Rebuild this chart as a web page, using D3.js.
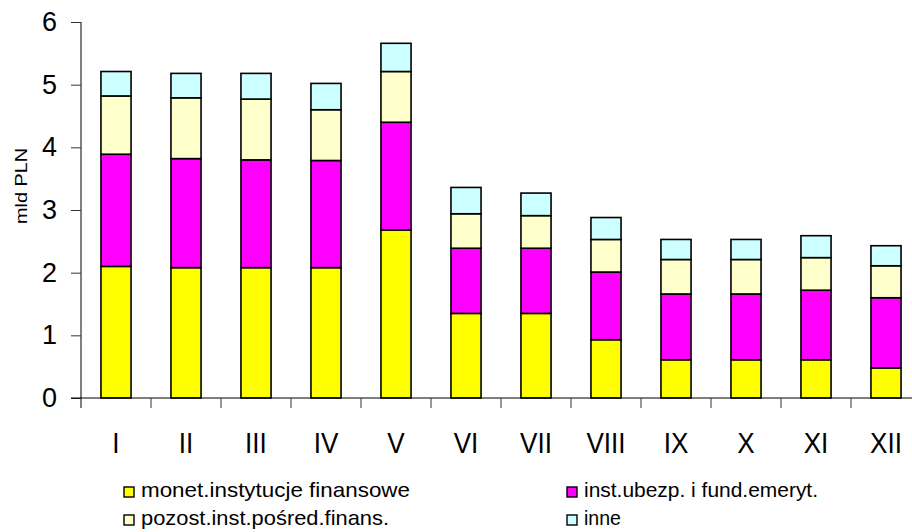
<!DOCTYPE html>
<html>
<head>
<meta charset="utf-8">
<script src="https://cdn.jsdelivr.net/npm/d3@7"></script>
<style>
  html, body { margin: 0; padding: 0; background: #fff; }
  svg { display: block; font-family: "Liberation Sans", Arial, sans-serif; }
</style>
</head>
<body>
<svg id="chart" width="912" height="532"></svg>
<script>
// Months (Roman numerals) and the four stacked components, in bn PLN
const months = ["I", "II", "III", "IV", "V", "VI", "VII", "VIII", "IX", "X", "XI", "XII"];
const monetInstytucje = [2.10, 2.08, 2.08, 2.08, 2.68, 1.35, 1.35, 0.93, 0.61, 0.61, 0.61, 0.48];
const instUbezp       = [1.79, 1.74, 1.72, 1.71, 1.72, 1.04, 1.04, 1.08, 1.05, 1.05, 1.11, 1.12];
const pozostInst      = [0.93, 0.97, 0.97, 0.81, 0.81, 0.55, 0.52, 0.52, 0.55, 0.55, 0.52, 0.51];
const inne            = [0.39, 0.39, 0.41, 0.42, 0.45, 0.42, 0.36, 0.35, 0.32, 0.32, 0.35, 0.32];
const seriesNames = ["monet.instytucje finansowe", "inst.ubezp. i fund.emeryt.", "pozost.inst.pośred.finans.", "inne"];
const seriesColors = ["#ffff00", "#ff00ff", "#ffffcc", "#ccffff"];
const yTicks = [0, 1, 2, 3, 4, 5, 6];

const svg = d3.select("#chart");
const plotLeft = 81, plotRight = 921, plotTop = 22, plotBottom = 398;

const x = d3.scaleBand().domain(months).range([plotLeft, plotRight])
  .paddingInner(0.57).paddingOuter(0.285);
const y = d3.scaleLinear().domain([0, 6]).range([plotBottom, plotTop]);

const keys = ["a", "b", "c", "d"];
const rows = months.map((m, i) => ({
  month: m, a: monetInstytucje[i], b: instUbezp[i], c: pozostInst[i], d: inne[i]
}));
const stacked = d3.stack().keys(keys)(rows);

// Stacked bars
svg.append("g").selectAll("g").data(stacked).join("g")
  .attr("fill", (d, i) => seriesColors[i])
  .selectAll("rect").data(d => d).join("rect")
  .attr("x", d => x(d.data.month))
  .attr("width", x.bandwidth())
  .attr("y", d => y(d[1]))
  .attr("height", d => y(d[0]) - y(d[1]))
  .attr("stroke", "#000")
  .attr("stroke-width", 1.6);

// Y axis
const yAxis = svg.append("g").attr("transform", `translate(${plotLeft},0)`)
  .call(d3.axisLeft(y).tickValues(yTicks).tickFormat(d3.format("d")).tickSize(10).tickPadding(14));
yAxis.select(".domain").attr("stroke", "#000").attr("d", `M0,${plotTop}V${plotBottom + 10}`);
yAxis.selectAll(".tick line").attr("stroke", "#333");
yAxis.selectAll(".tick text")
  .attr("font-size", 27).attr("fill", "#000")
  .attr("font-family", "'Liberation Sans', Arial, sans-serif");

// X axis: ticks sit on the boundaries between months
const boundaries = d3.range(months.length + 1).map(i => plotLeft + i * x.step());
const xg = svg.append("g");
xg.append("line").attr("x1", plotLeft - 10).attr("x2", plotRight)
  .attr("y1", plotBottom).attr("y2", plotBottom).attr("stroke", "#000");
xg.selectAll("line.tk").data(boundaries.slice(1)).join("line").attr("class", "tk")
  .attr("x1", d => d).attr("x2", d => d)
  .attr("y1", plotBottom).attr("y2", plotBottom + 10).attr("stroke", "#333");
xg.selectAll("text").data(months).join("text")
  .attr("transform", d => `translate(${x(d) + x.bandwidth() / 2},453) scale(0.87,1)`)
  .attr("text-anchor", "middle")
  .attr("font-size", 30)
  .attr("fill", "#000")
  .text(d => d);

// Y axis title
svg.append("text")
  .attr("transform", "translate(27,186) rotate(-90)")
  .attr("text-anchor", "middle")
  .attr("font-size", 17)
  .attr("fill", "#000")
  .attr("textLength", 76)
  .attr("lengthAdjust", "spacingAndGlyphs")
  .text("mld PLN");

// Legend (two columns, two rows)
const legendPos = [[124, 487], [567, 487], [124, 515], [567, 515]];
const legendWidths = [269, 234, 248, 37];
const lg = svg.append("g").selectAll("g").data(seriesNames).join("g")
  .attr("transform", (d, i) => `translate(${legendPos[i][0]},${legendPos[i][1]})`);
lg.append("rect").attr("width", 10).attr("height", 10)
  .attr("fill", (d, i) => seriesColors[i]).attr("stroke", "#000").attr("stroke-width", 1.4);
lg.append("text").attr("x", 17).attr("y", 10)
  .attr("font-size", 21).attr("fill", "#000")
  .attr("textLength", (d, i) => legendWidths[i])
  .attr("lengthAdjust", "spacingAndGlyphs")
  .text(d => d);
</script>
</body>
</html>
